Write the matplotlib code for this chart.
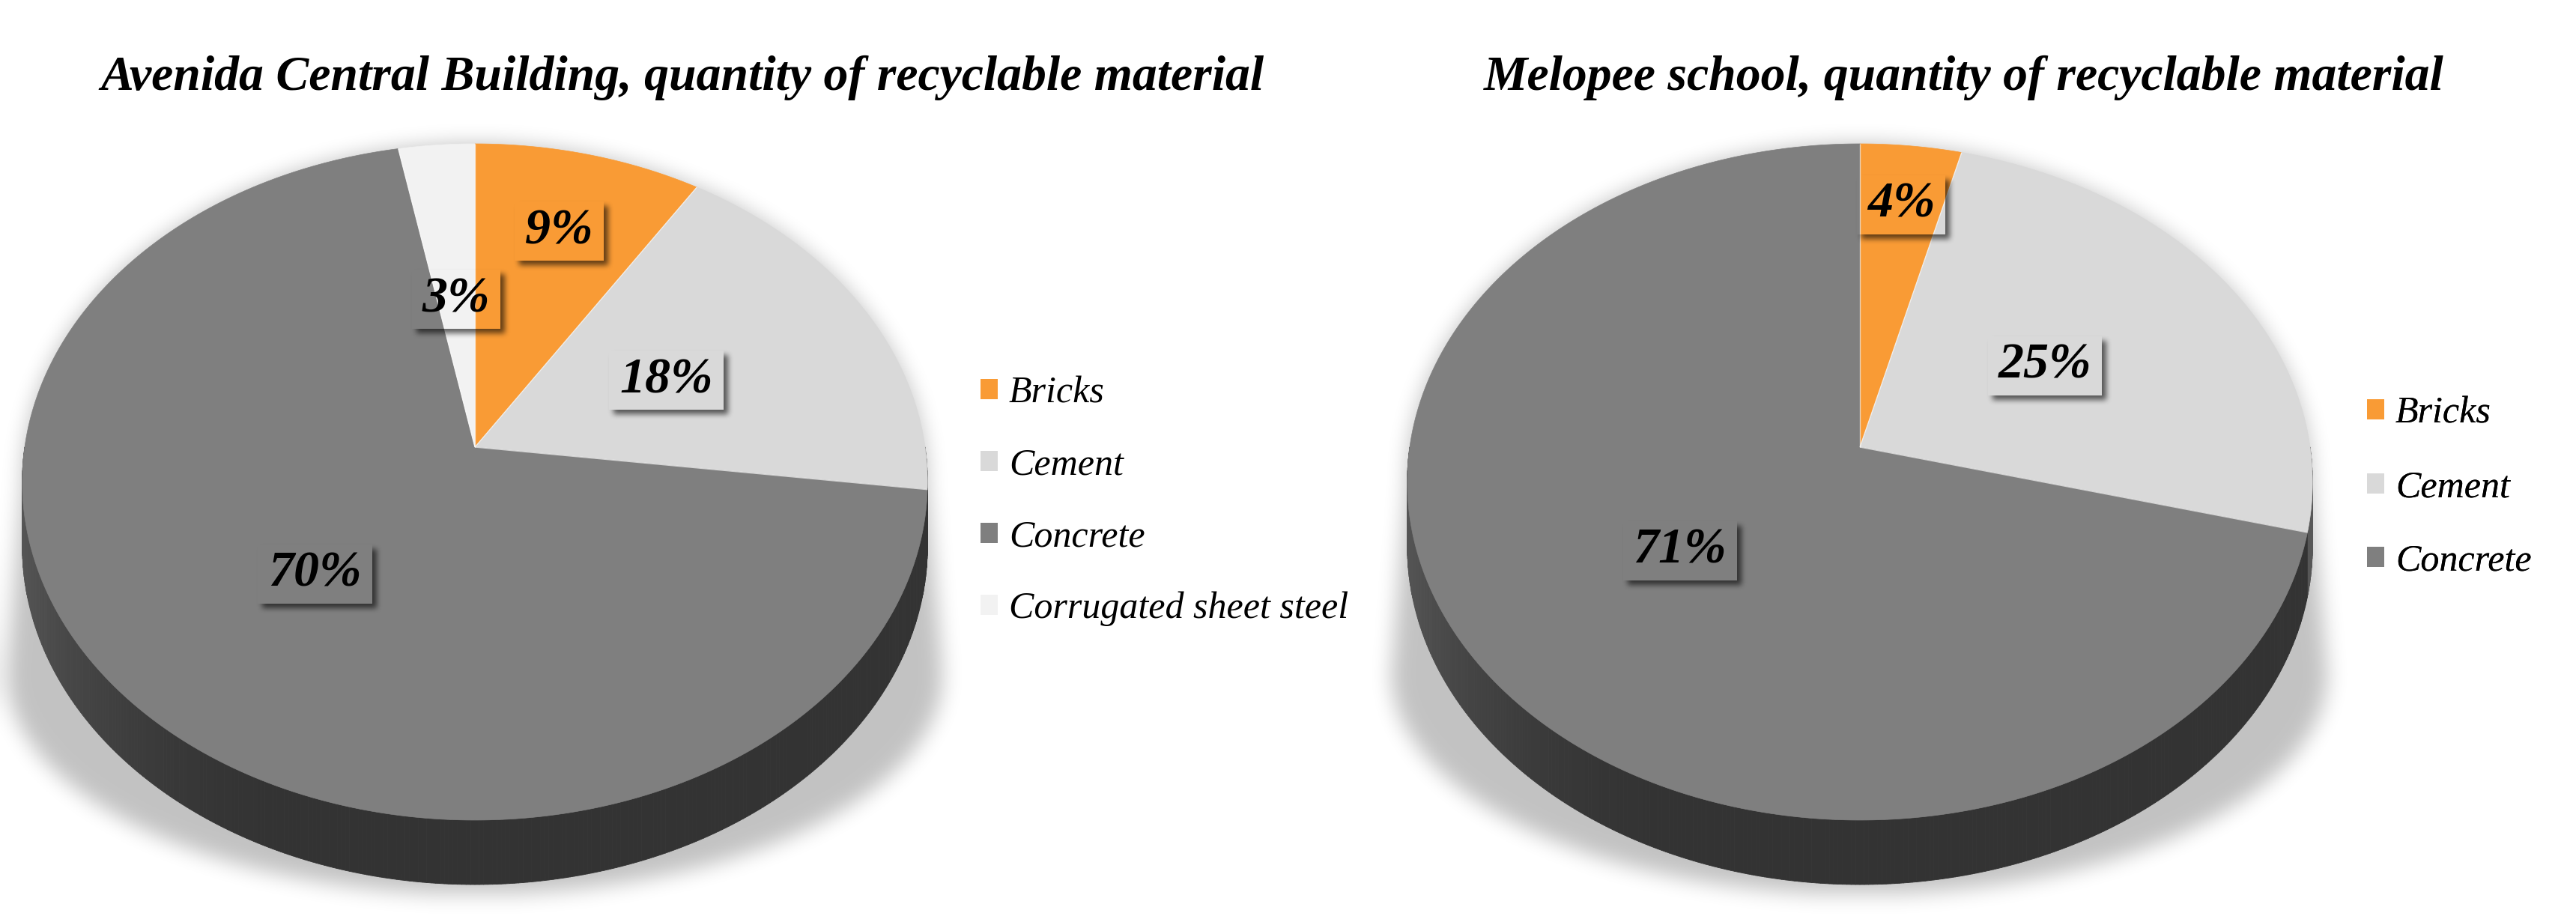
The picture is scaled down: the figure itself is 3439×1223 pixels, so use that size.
import numpy as np
import matplotlib
matplotlib.use("Agg")
import matplotlib.pyplot as plt
from matplotlib.colors import to_rgb
from matplotlib.patches import Polygon, Patch
from matplotlib.collections import PolyCollection, LineCollection
from matplotlib.path import Path

# ---------------- data ----------------
materials_avenida = ["Bricks", "Cement", "Concrete", "Corrugated sheet steel"]
percent_avenida = [9, 18, 70, 3]
materials_melopee = ["Bricks", "Cement", "Concrete"]
percent_melopee = [4, 25, 71]
title_avenida = "Avenida Central Building, quantity of recyclable material"
title_melopee = "Melopee school, quantity of recyclable material"

# ---------------- style ----------------
material_colors = {
    "Bricks": "#F99B35",
    "Cement": "#D9D9D9",
    "Concrete": "#7F7F7F",
    "Corrugated sheet steel": "#F2F2F2",
}
W, H = 3439, 1223
SERIF = "Liberation Serif"
RX, RY, PERSP, DEPTH = 601.0, 446.7, 0.103, 86.0   # projected disc geometry (px)

charts = [
    dict(names=materials_avenida, values=percent_avenida, title=title_avenida,
         center=(634.0, 597.0), label_r=[0.72, 0.48, 0.50, 0.465],
         title_x=911.0, title_w=1553.0, legend_xy=(1309.0, 502.0), legend_gap=0.99),
    dict(names=materials_melopee, values=percent_melopee, title=title_melopee,
         center=(2483.0, 597.0), label_r=[0.79, 0.49, 0.49],
         title_x=2622.0, title_w=1283.0, legend_xy=(3160.0, 529.0), legend_gap=1.04),
]


def project(cx, cy, r, theta_deg):
    """Map polar coords on the disc (clockwise from 12 o'clock) to a tilted perspective view."""
    t = np.radians(theta_deg)
    X = r * np.sin(t)
    Y = r * np.cos(t)
    w = 1.0 + PERSP * Y
    return cx + RX * X / w, cy - RY * Y / w


def side_shade(theta):
    t = np.clip((theta - 200.0) / 70.0, 0.0, 1.0)
    t = t * t * (3 - 2 * t)
    return 0.40 + 0.28 * t


def blur1d(a, r, axis):
    a = np.moveaxis(a, axis, -1)
    pad = np.pad(a, [(0, 0)] * (a.ndim - 1) + [(r + 1, r)], mode="edge")
    c = np.cumsum(pad, axis=-1)
    out = (c[..., 2 * r + 1:] - c[..., :-2 * r - 1]) / (2 * r + 1)
    return np.moveaxis(out, -1, axis)


def blur(img, sigma):
    r = max(1, int(round(sigma)))
    for _ in range(3):
        img = blur1d(img, r, 0)
        img = blur1d(img, r, 1)
    return img


fig = plt.figure(figsize=(W / 100, H / 100), dpi=100)
ax = fig.add_axes([0, 0, 1, 1])
ax.set_xlim(0, W)
ax.set_ylim(H, 0)
ax.axis("off")

# ---------- soft floor shadow behind each pie ----------
step = 2
gy, gx = np.mgrid[0:H:step, 0:W:step]
pts = np.column_stack([gx.ravel() + step / 2, gy.ravel() + step / 2])
floor = np.zeros(gx.shape)
for ch in charts:
    cx, cy = ch["center"]
    top = np.linspace(264.0, 456.0, 200)
    tx, ty = project(cx, cy, 1.0, top)
    xl, yl = tx[0], ty[0]
    phi = np.linspace(0, np.pi, 200)
    bx = cx + 625.0 * np.cos(phi)
    by = 900.0 + 295.0 * np.sin(phi)
    verts = np.concatenate([
        np.column_stack([tx, ty]),
        [[cx + 625.0, 900.0]],
        np.column_stack([bx, by]),
        [[xl, yl]],
    ])
    inside = Path(verts).contains_points(pts).reshape(gx.shape)
    floor = np.maximum(floor, inside.astype(float))
floor = blur(floor, 12 / step) * 0.24
rgba = np.zeros(floor.shape + (4,))
rgba[..., 3] = floor
ax.imshow(rgba, extent=(0, W, H, 0), zorder=1, interpolation="bilinear", aspect="auto")

# ---------- pies ----------
pct_texts = []
for ch in charts:
    cx, cy = ch["center"]
    names, vals = ch["names"], np.asarray(ch["values"], float)
    edges = np.concatenate([[0.0], np.cumsum(vals) / vals.sum() * 360.0])

    # front wall
    th = np.arange(90.0, 270.01, 0.5)
    polys, cols = [], []
    for a0, a1 in zip(th[:-1], th[1:]):
        x0, y0 = project(cx, cy, 1.0, a0)
        x1, y1 = project(cx, cy, 1.0, a1)
        polys.append([(x0, y0), (x1, y1), (x1, y1 + DEPTH), (x0, y0 + DEPTH)])
        mid = 0.5 * (a0 + a1)
        k = min(np.searchsorted(edges, mid) - 1, len(names) - 1)
        cols.append(np.array(to_rgb(material_colors[names[k]])) * side_shade(mid))
    ax.add_collection(PolyCollection(polys, facecolors=cols, edgecolors=cols,
                                     linewidths=0.6, zorder=2))

    # top face
    radial = []
    for i, name in enumerate(names):
        a = np.linspace(edges[i], edges[i + 1], max(4, int((edges[i + 1] - edges[i]) * 2)))
        xs, ys = project(cx, cy, 1.0, a)
        ax.add_patch(Polygon([(cx, cy)] + list(zip(xs, ys)), closed=True,
                             fc=material_colors[name], ec=material_colors[name],
                             lw=0.5, zorder=3))
        ex, ey = project(cx, cy, 1.0, edges[i])
        radial.append([(cx, cy), (ex, ey)])
    ax.add_collection(LineCollection(radial, colors="white", linewidths=1.0,
                                     alpha=0.6, zorder=4))

    # percentage labels
    for i, v in enumerate(ch["values"]):
        mid = 0.5 * (edges[i] + edges[i + 1])
        lx, ly = project(cx, cy, ch["label_r"][i], mid)
        t = ax.text(lx, ly, f"{v}%", ha="center", va="center", fontsize=49,
                    fontweight="bold", fontstyle="italic", family=SERIF,
                    color="black", zorder=7)
        pct_texts.append(t)

    # title
    ch["title_artist"] = ax.text(ch["title_x"], 120, ch["title"], ha="center",
                                 va="baseline", fontsize=46, fontweight="bold",
                                 fontstyle="italic", family=SERIF, color="black",
                                 zorder=7)

    # legend
    handles = [Patch(facecolor=material_colors[n], edgecolor="none") for n in names]
    leg = ax.legend(handles, names, loc="upper left", bbox_to_anchor=ch["legend_xy"],
                    bbox_transform=ax.transData, frameon=False,
                    prop=dict(family=SERIF, style="italic", size=36),
                    handlelength=0.46, handleheight=0.46, handletextpad=0.3,
                    labelspacing=ch["legend_gap"], borderpad=0, borderaxespad=0)
    ax.add_artist(leg)

# ---------- fit titles to their width, then add label box shadows ----------
fig.canvas.draw()
renderer = fig.canvas.get_renderer()
for ch in charts:
    t = ch["title_artist"]
    wpx = t.get_window_extent(renderer).width
    t.set_fontsize(t.get_fontsize() * ch["title_w"] / wpx)
fig.canvas.draw()

OFF, PADX, PADY = 6.0, 14.0, 9.0
lab = np.zeros((H, W))
for t in pct_texts:
    bb = t.get_window_extent(renderer)
    x0, x1 = bb.x0 - PADX, bb.x1 + PADX
    y0, y1 = H - bb.y1 - PADY, H - bb.y0 + PADY
    m = 30
    X0, X1 = int(x0) - m, int(x1) + m
    Y0, Y1 = int(y0) - m, int(y1) + m
    yy, xx = np.mgrid[Y0:Y1, X0:X1] + 0.5
    sh = ((xx >= x0 + OFF) & (xx <= x1 + OFF) & (yy >= y0 + OFF) & (yy <= y1 + OFF)).astype(float)
    sh = blur(sh, 3)
    sh[(xx >= x0) & (xx <= x1) & (yy >= y0) & (yy <= y1)] = 0.0
    lab[Y0:Y1, X0:X1] = np.maximum(lab[Y0:Y1, X0:X1], sh * 0.6)
rgba2 = np.zeros((H, W, 4))
rgba2[..., 3] = lab
ax.imshow(rgba2, extent=(0, W, H, 0), zorder=6, interpolation="nearest", aspect="auto")
ax.set_xlim(0, W)
ax.set_ylim(H, 0)

fig.savefig("out.png", dpi=100, facecolor="white")
